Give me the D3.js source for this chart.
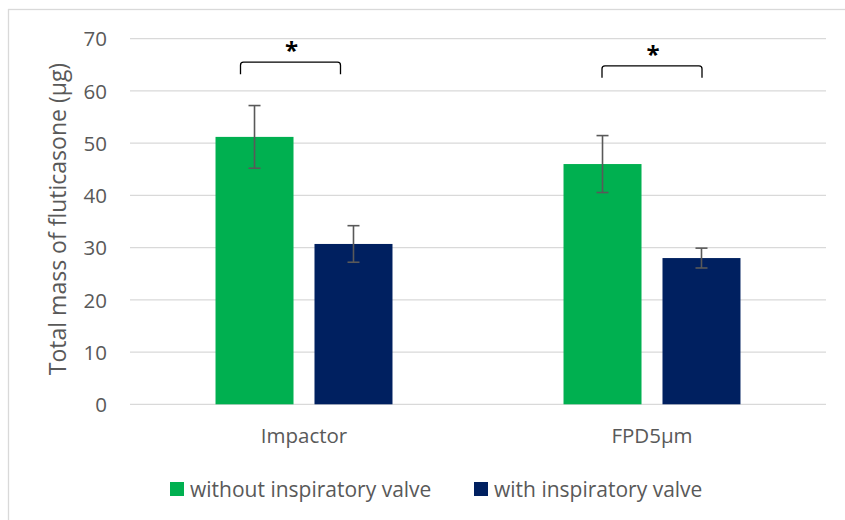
<!DOCTYPE html>
<html><head><meta charset="utf-8">
<script src="https://cdn.jsdelivr.net/npm/d3@7/dist/d3.min.js"></script>
<style>
body{margin:0;background:#fff;}
svg text{font-family:"Open Sans",sans-serif;}
</style></head>
<body><svg id="c" width="845" height="520"></svg>
<script>
const categories = ["Impactor", "FPD5\u00b5m"];
const seriesNames = ["without inspiratory valve", "with inspiratory valve"];
const withoutValve = [51.2, 46.0];
const withValve = [30.7, 28.0];
const withoutValveErr = [6.0, 5.45];
const withValveErr = [3.5, 1.9];
const yTicks = [0, 10, 20, 30, 40, 50, 60, 70];
const significance = ["*", "*"];
const colors = ["#00B050", "#002060"];

const svg = d3.select("#c");
svg.append("rect").attr("x",8.5).attr("y",9.5).attr("width",850).attr("height",520)
  .attr("fill","none").attr("stroke","#D9D9D9").attr("stroke-width",1.3);

const L=130, R=826, T=38.7, B=404.3;
const x0 = d3.scaleBand().domain(categories).range([L,R]).paddingInner(0).paddingOuter(0);
const x1 = d3.scaleBand().domain(seriesNames).range([0, x0.bandwidth()]).paddingInner(0.212).paddingOuter(0.864);
const y = d3.scaleLinear().domain([0,70]).range([B,T]);

svg.append("g").selectAll("line").data(yTicks).join("line")
  .attr("x1",L).attr("x2",R).attr("y1",d=>y(d)).attr("y2",d=>y(d))
  .attr("stroke","#D9D9D9").attr("stroke-width",1.3);

const FS = 20.5;
const yAxis = d3.axisLeft(y).tickValues(yTicks).tickSize(0).tickPadding(0).tickFormat(d3.format("d"));
const ya = svg.append("g").attr("transform",`translate(${107},0)`).call(yAxis);
ya.select(".domain").remove();
ya.attr("font-size",FS).attr("font-family","'Open Sans',sans-serif");
ya.selectAll("text").attr("fill","#595959").attr("dy","0.35em");

const xAxis = d3.axisBottom(x0).tickSize(0).tickPadding(0);
const xa = svg.append("g").attr("transform",`translate(0,${443})`).call(xAxis);
xa.select(".domain").remove();
xa.attr("font-size",FS).attr("font-family","'Open Sans',sans-serif");
xa.selectAll("text").attr("fill","#595959").attr("dy","0");

svg.append("text").attr("transform",`translate(${66},${219}) rotate(-90)`)
  .attr("text-anchor","middle").attr("font-size",23).attr("fill","#595959")
  .text("Total mass of fluticasone (\u00b5g)");

const data = categories.map((c,i)=>({cat:c, vals:[
  {s:seriesNames[0], v:withoutValve[i], e:withoutValveErr[i], c:colors[0]},
  {s:seriesNames[1], v:withValve[i], e:withValveErr[i], c:colors[1]}]}));

const groups = svg.append("g").selectAll("g").data(data).join("g")
  .attr("transform",d=>`translate(${x0(d.cat)},0)`);
groups.selectAll("rect").data(d=>d.vals).join("rect")
  .attr("x",d=>x1(d.s)).attr("width",x1.bandwidth())
  .attr("y",d=>y(d.v)).attr("height",d=>y(0)-y(d.v)).attr("fill",d=>d.c);

const eb = groups.selectAll("g.err").data(d=>d.vals).join("g").attr("class","err")
  .attr("stroke","#595959").attr("stroke-width",1.6);
const cx = d=>x1(d.s)+x1.bandwidth()/2;
eb.append("line").attr("x1",cx).attr("x2",cx).attr("y1",d=>y(d.v+d.e)).attr("y2",d=>y(d.v-d.e));
eb.append("line").attr("x1",d=>cx(d)-6).attr("x2",d=>cx(d)+6).attr("y1",d=>y(d.v+d.e)).attr("y2",d=>y(d.v+d.e));
eb.append("line").attr("x1",d=>cx(d)-6).attr("x2",d=>cx(d)+6).attr("y1",d=>y(d.v-d.e)).attr("y2",d=>y(d.v-d.e));

const bracketTop = [65.5, 64.8];
const bracketBottom = [63.2, 62.5];
const bracketShift = [-13.5, 0];
categories.forEach((c,i)=>{
  const mid = x0(c)+x0.bandwidth()/2 + bracketShift[i];
  const xa1 = mid-50, xa2 = mid+50;
  const yt = y(bracketTop[i]), yb = y(bracketBottom[i]);
  const r = 3;
  const p = d3.path();
  p.moveTo(xa1, yb); p.lineTo(xa1, yt+r); p.quadraticCurveTo(xa1, yt, xa1+r, yt);
  p.lineTo(xa2-r, yt); p.quadraticCurveTo(xa2, yt, xa2, yt+r); p.lineTo(xa2, yb);
  svg.append("path").attr("d",p.toString()).attr("fill","none").attr("stroke","#000").attr("stroke-width",1.3);
  svg.append("text").attr("x",mid+1).attr("y",yt-3).attr("text-anchor","middle")
    .attr("font-size",24).attr("font-weight","bold").attr("fill","#000").text(significance[i]);
});

const legX = [170, 474];
const lg = svg.append("g").selectAll("g").data(seriesNames).join("g")
  .attr("transform",(d,i)=>`translate(${legX[i]},482)`);
lg.append("rect").attr("width",14).attr("height",14).attr("fill",(d,i)=>colors[i]);
lg.append("text").attr("x",20).attr("y",14.5).attr("font-size",21).attr("fill","#595959").text(d=>d);
</script></body></html>
